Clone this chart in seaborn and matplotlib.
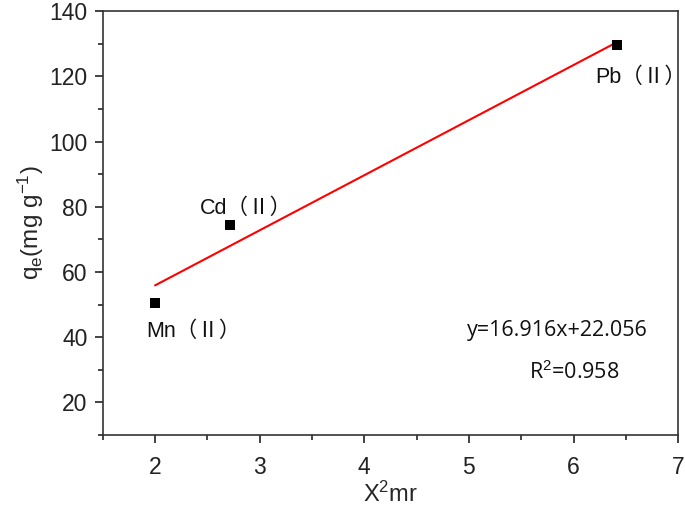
import matplotlib
matplotlib.use("Agg")
import matplotlib.pyplot as plt
import seaborn as sns
import pandas as pd
from matplotlib.ticker import MultipleLocator

# data
metals = ["Mn（Ⅱ）", "Cd（Ⅱ）", "Pb（Ⅱ）"]
chi2_mr = [2.0, 2.72, 6.42]
qe = [50.5, 74.5, 129.5]
fit_text = "y=16.916x+22.056"
r2_text = "R$^2$=0.958"

sns.set_style("ticks")
plt.rcParams['font.family'] = ['Liberation Sans', 'Noto Sans CJK SC', 'DejaVu Sans']
plt.rcParams['mathtext.fontset'] = 'custom'
plt.rcParams['mathtext.rm'] = 'Liberation Sans'
plt.rcParams['mathtext.it'] = 'Liberation Sans'

df = pd.DataFrame({"metal": metals, "x": chi2_mr, "y": qe})

fig = plt.figure(figsize=(6.85, 5.28), dpi=100)
ax = fig.add_axes([0.150, 0.176, 0.840, 0.803])

sns.regplot(data=df, x="x", y="y", ax=ax, ci=None, scatter=False, truncate=True,
            line_kws={"color": "red", "lw": 1.5})
sns.scatterplot(data=df, x="x", y="y", ax=ax, marker="s", color="black",
                s=48, edgecolor="black", linewidth=0, zorder=3)

# label anchor (left edge, vertical centre) for each metal
label_pos = {"Mn（Ⅱ）": (1.92, 41.8), "Cd（Ⅱ）": (2.43, 79.6), "Pb（Ⅱ）": (6.21, 119.8)}
for m in metals:
    lx, ly = label_pos[m]
    ax.text(lx, ly, m, ha="left", va="center", fontsize=15.5, color="#111111")

ax.text(4.98, 42.1, fit_text, ha="left", va="center", fontsize=15.5, family="Open Sans", color="#111111")
ax.text(5.57, 29.3, r2_text, ha="left", va="center", fontsize=15.5, family="Open Sans", color="#111111")

ax.set_xlim(1.5, 7)
ax.set_ylim(10, 140)
ax.xaxis.set_major_locator(MultipleLocator(1))
ax.xaxis.set_minor_locator(MultipleLocator(0.5))
ax.set_yticks([20, 40, 60, 80, 100, 120, 140])
ax.yaxis.set_minor_locator(MultipleLocator(10))
ax.tick_params(which="major", direction="out", length=6, width=1.2, labelsize=16.5, colors="#222222")
ax.tick_params(which="minor", direction="out", length=3.5, width=1.2)
ax.tick_params(axis="x", which="major", pad=9)
ax.tick_params(axis="y", which="major", pad=5)
for s in ax.spines.values():
    s.set_linewidth(1.2)
    s.set_color("#333333")

ax.set_xlabel("X$^2$mr", fontsize=17, labelpad=2)
ax.set_ylabel("q$_{\\mathrm{e}}$(mg g$^{-1}$)", fontsize=17.5, labelpad=2)

fig.savefig("out.png", dpi=100)
